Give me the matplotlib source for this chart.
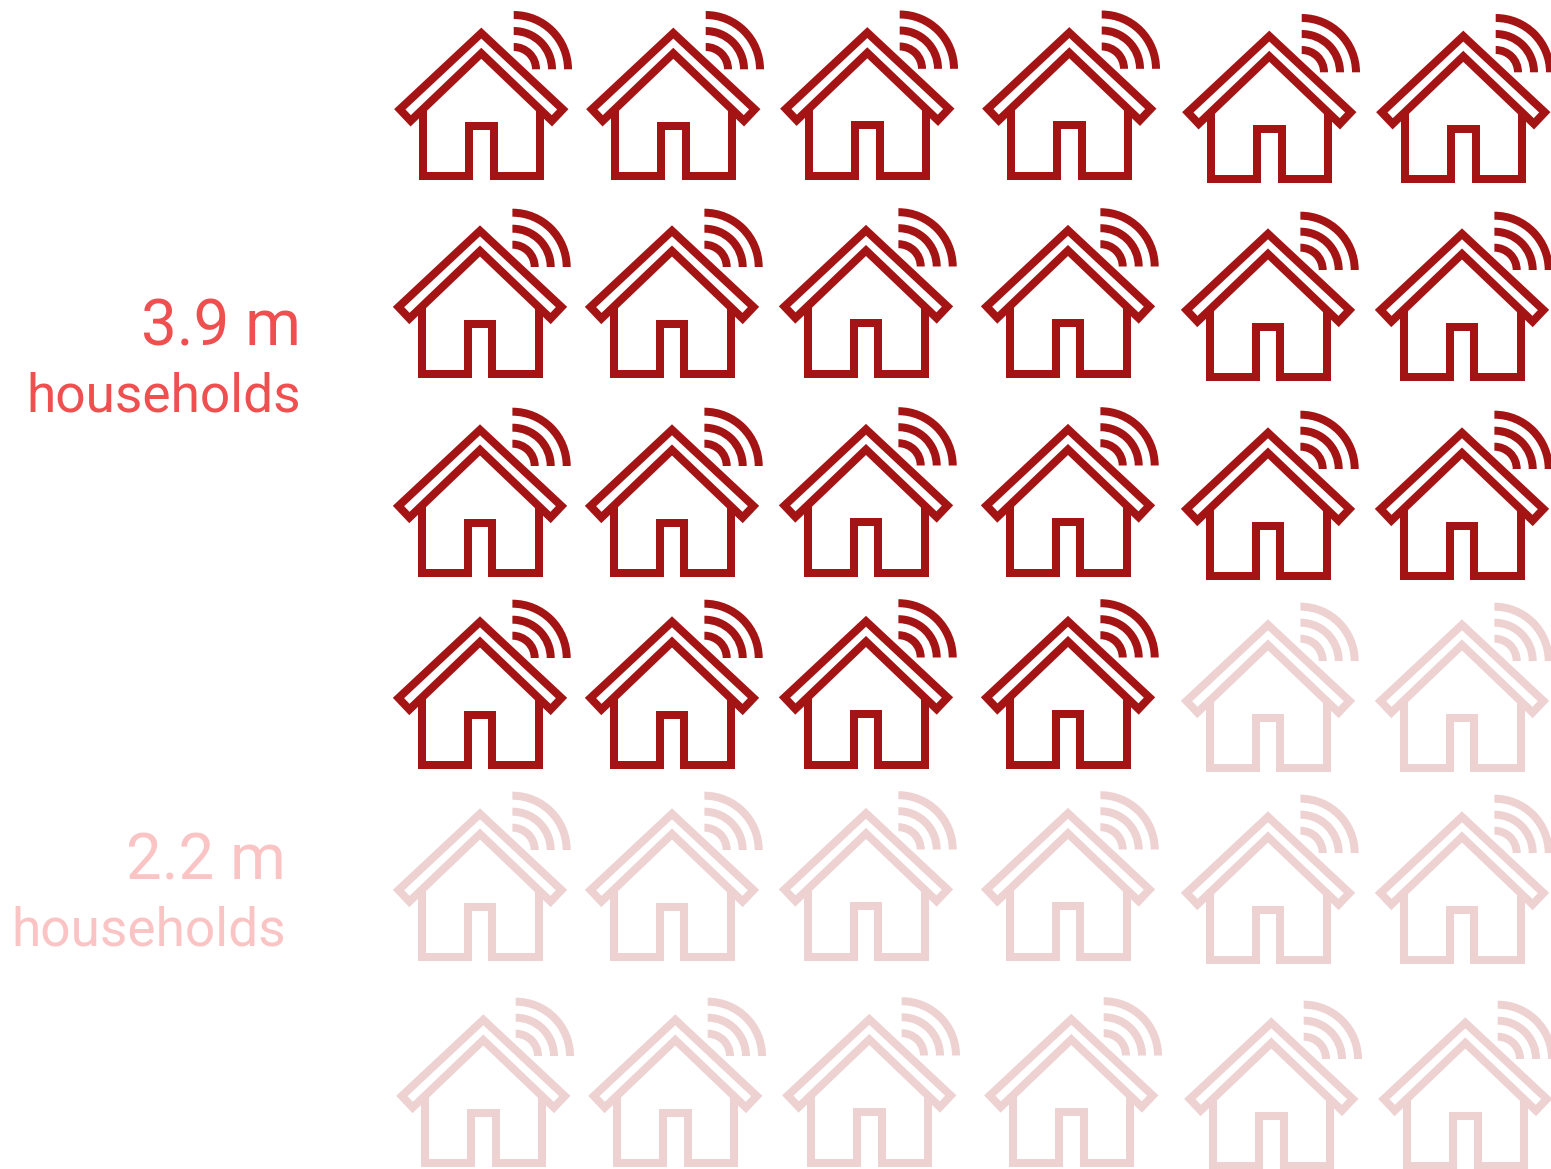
import matplotlib
matplotlib.use('Agg')
import matplotlib.pyplot as plt
from matplotlib.patches import Polygon, Wedge
from matplotlib.lines import Line2D

# chart data
n_dark = 22
n_light = 14
labels = ['3.9 m', '2.2 m']
unit = 'households'

DARK = '#a51414'
LIGHT = '#eed2d2'
TEXT_DARK = '#ef4f4f'
TEXT_LIGHT = '#fbc4c4'

# icon grid (pixels of the figure), small offsets per row and column
col_x = [481.3, 673.3, 867.3, 1069.3, 1269.3, 1463.3]
col_dy = [0, 0, -0.5, -0.5, 3, 3]
row_y = [28.3, 226, 425, 617, 809, 1015]
row_dx = [0, -1.3, -1.3, -1.3, -1.3, 2]
per_row = len(col_x)

LW = 8 * 72 / 100.0


def draw_house(ax, x, y, color):
    roof = [(0, 4.8), (81.5, 81), (70.6, 92.5), (0, 25), (-70.6, 92.5), (-81.5, 81)]
    body = [(-58.5, 80), (-58.5, 148), (-12.3, 148), (-12.3, 97.5),
            (12.3, 97.5), (12.3, 148), (58.5, 148), (58.5, 80)]
    ax.add_patch(Polygon([(x + a, y + b) for a, b in roof], closed=True, fill=False,
                         edgecolor=color, lw=LW, joinstyle='miter'))
    ax.add_line(Line2D([x + a for a, b in body], [y + b for a, b in body], color=color,
                       lw=LW, solid_joinstyle='miter', solid_capstyle='butt'))
    # wifi arcs, y axis is flipped so the quarter runs 270..360
    for r in [58.3, 42.3, 26.3]:
        ax.add_patch(Wedge((x + 32.4, y + 41), r, 270, 360, width=8, color=color, lw=0))


fig = plt.figure(figsize=(15.51, 11.69), dpi=100)
ax = fig.add_axes([0, 0, 1, 1])
ax.set_xlim(0, 1551)
ax.set_ylim(1169, 0)
ax.axis('off')

for i in range(n_dark + n_light):
    r, c = divmod(i, per_row)
    color = DARK if i < n_dark else LIGHT
    draw_house(ax, col_x[c] + row_dx[r], row_y[r] + col_dy[c], color)

ax.text(301, 345, labels[0], color=TEXT_DARK, family='Roboto', fontsize=45.8, ha='right', va='baseline')
ax.text(301, 411, unit, color=TEXT_DARK, family='Roboto', fontsize=38.3, ha='right', va='baseline')
ax.text(286, 880, labels[1], color=TEXT_LIGHT, family='Roboto', fontsize=45.8, ha='right', va='baseline')
ax.text(286, 946, unit, color=TEXT_LIGHT, family='Roboto', fontsize=38.3, ha='right', va='baseline')

fig.savefig('out.png', dpi=100)
